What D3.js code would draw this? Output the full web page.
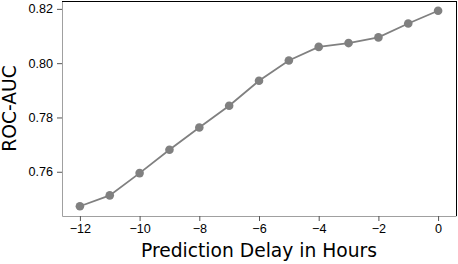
<!DOCTYPE html>
<html>
<head>
<meta charset="utf-8">
<script src="https://cdn.jsdelivr.net/npm/d3@7"></script>
<style>
  body { margin: 0; background: #fff; }
  svg { display: block; font-family: "DejaVu Sans", sans-serif; }
</style>
</head>
<body>
<svg id="chart" width="458" height="264"></svg>
<script>
// prediction delay (hours) vs ROC-AUC
const delays = [-12, -11, -10, -9, -8, -7, -6, -5, -4, -3, -2, -1, 0]
const rocAuc = [0.7473, 0.7513, 0.7595, 0.7681, 0.7763, 0.7843, 0.7935, 0.8010, 0.8060, 0.8074, 0.8095, 0.8146, 0.8193]
const xTicks = [-12, -10, -8, -6, -4, -2, 0]
const yTicks = [0.76, 0.78, 0.80, 0.82]

const data = delays.map((d, i) => ({ delay: d, auc: rocAuc[i] }))

const plotLeft = 62, plotRight = 456, plotTop = 1, plotBottom = 216
const grey = '#808080'
const spineGrey = '#a0a0a0'

const svg = d3.select('#chart')

// matplotlib style 5% padding on both axes
const xPad = (d3.max(delays) - d3.min(delays)) * 0.05
const yPad = (d3.max(rocAuc) - d3.min(rocAuc)) * 0.05

const xScale = d3.scaleLinear()
  .domain([d3.min(delays) - xPad, d3.max(delays) + xPad])
  .range([plotLeft, plotRight])

const yScale = d3.scaleLinear()
  .domain([d3.min(rocAuc) - yPad, d3.max(rocAuc) + yPad])
  .range([plotBottom, plotTop])

const fmtX = d => (d < 0 ? '\u2212' + Math.abs(d) : String(d))

// x axis
const xAxis = svg.append('g')
  .attr('transform', `translate(0, ${plotBottom})`)
  .call(d3.axisBottom(xScale).tickValues(xTicks).tickFormat(fmtX).tickSize(5).tickPadding(3).tickSizeOuter(0))
xAxis.select('.domain').attr('stroke', spineGrey)
xAxis.selectAll('.tick line').attr('stroke', '#555')
xAxis.selectAll('.tick text').attr('font-size', '12.6px').attr('fill', '#000')

// y axis
const yAxis = svg.append('g')
  .attr('transform', `translate(${plotLeft}, 0)`)
  .call(d3.axisLeft(yScale).tickValues(yTicks).tickFormat(d3.format('.2f')).tickSize(5).tickPadding(4).tickSizeOuter(0))
yAxis.select('.domain').attr('stroke', spineGrey)
yAxis.selectAll('.tick line').attr('stroke', '#555')
yAxis.selectAll('.tick text').attr('font-size', '12.6px').attr('fill', '#000')

// top and right spines
svg.append('line')
  .attr('x1', plotLeft).attr('x2', plotRight + 0.5)
  .attr('y1', plotTop + 0.5).attr('y2', plotTop + 0.5)
  .attr('stroke', '#000').attr('stroke-width', 1)
svg.append('line')
  .attr('x1', plotRight + 0.5).attr('x2', plotRight + 0.5)
  .attr('y1', plotTop).attr('y2', plotBottom)
  .attr('stroke', '#000').attr('stroke-width', 1)

// line
const line = d3.line()
  .x(d => xScale(d.delay))
  .y(d => yScale(d.auc))

svg.append('path')
  .datum(data)
  .attr('d', line)
  .attr('fill', 'none')
  .attr('stroke', grey)
  .attr('stroke-width', 1.8)

// markers
svg.selectAll('circle')
  .data(data)
  .enter()
  .append('circle')
  .attr('cx', d => xScale(d.delay))
  .attr('cy', d => yScale(d.auc))
  .attr('r', 4.3)
  .attr('fill', grey)

// axis labels
svg.append('text')
  .attr('x', (plotLeft + plotRight) / 2)
  .attr('y', 257)
  .attr('text-anchor', 'middle')
  .attr('font-size', '18.7px')
  .text('Prediction Delay in Hours')

svg.append('text')
  .attr('transform', `translate(16, ${(plotTop + plotBottom) / 2}) rotate(-90)`)
  .attr('text-anchor', 'middle')
  .attr('font-size', '18.7px')
  .text('ROC-AUC')
</script>
</body>
</html>
